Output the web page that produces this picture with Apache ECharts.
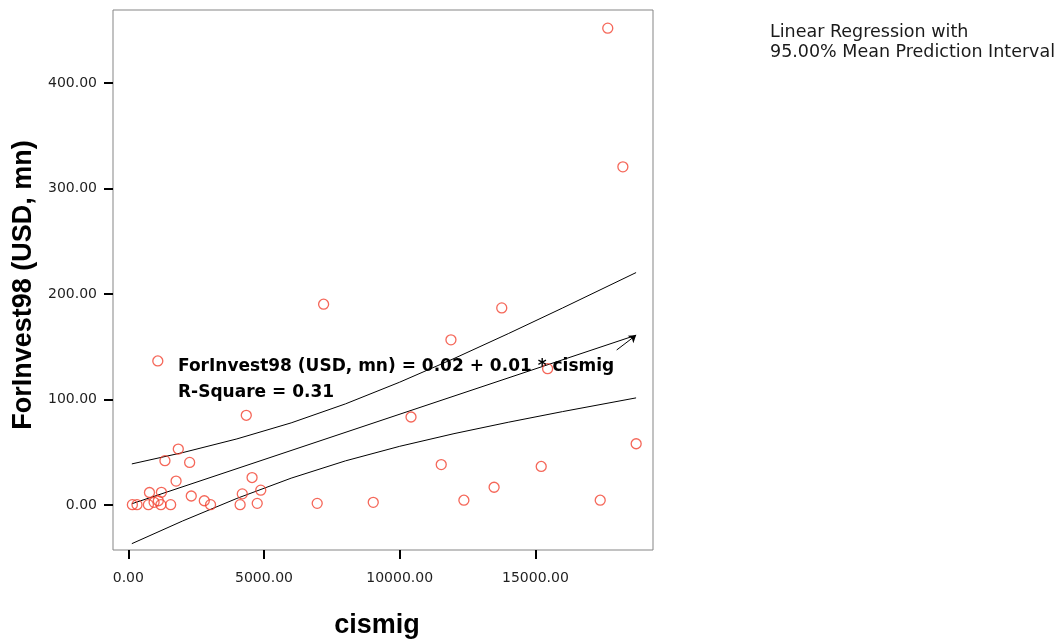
<!DOCTYPE html>
<html>
<head>
<meta charset="utf-8">
<title>ForInvest98 vs cismig</title>
<script src="https://cdn.jsdelivr.net/npm/echarts@6/dist/echarts.min.js"></script>
<style>
  html, body { margin: 0; padding: 0; background: #ffffff; }
  #chart { width: 1063px; height: 639px; }
</style>
</head>
<body>
<div id="chart"></div>
<script>
// Observations: cismig (x) and ForInvest98 in USD mn (y)
const cismig = [17666, 18223, 7196, 13760, 11888, 1087, 15450, 4347, 10417, 1842,
                1350, 2260, 11530, 15214, 18713, 1760, 4560, 13478, 780, 1220,
                2320, 4200, 4880, 2800, 3030, 4120, 4750, 6960, 9025, 12365,
                17388, 1560, 1200, 150, 320, 740, 950, 1105];
const forInvest98 = [452, 320.5, 190.3, 186.8, 156.5, 136.5, 129.2, 85, 83.4, 53,
                     42, 40.3, 38.3, 36.5, 58, 22.6, 26, 16.8, 11.8, 12,
                     8.5, 10.5, 14, 4, 0.3, 0.3, 1.5, 1.5, 2.5, 4.5,
                     4.5, 0.3, 0.3, 0.3, 0.3, 0.3, 2.5, 4];

// Fitted line coefficients
const intercept = 0.02;
const slope = 0.0086;
const rSquare = 0.31;
const fitRange = [130, 18710];

// 95% mean prediction interval bounds
const bandX = [130, 2000, 4000, 6000, 8000, 10000, 12000, 14000, 16000, 18710];
const bandUpper = [38.9, 49.6, 62.6, 77.8, 95.8, 116.4, 138.8, 162.4, 186.7, 220.3];
const bandLower = [-36.7, -15.2, 6.2, 25.4, 41.8, 55.6, 67.6, 78.4, 88.5, 101.5];

// Axis ticks
const xTicks = [0, 5000, 10000, 15000];
const yTicks = [0, 100, 200, 300, 400];

const points = cismig.map((x, i) => [x, forInvest98[i]]);
const fitLine = fitRange.map(x => [x, intercept + slope * x]);
const upperLine = bandX.map((x, i) => [x, bandUpper[i]]);
const lowerLine = bandX.map((x, i) => [x, bandLower[i]]);
const arrowEnd = fitLine[fitLine.length - 1];

const tickFont = { fontFamily: 'DejaVu Sans', fontSize: 14, color: '#1f1f1f' };
const nameFont = { fontFamily: 'Liberation Sans', fontSize: 27, fontWeight: 'bold', color: '#000' };
const eqFont = { fontFamily: 'DejaVu Sans', fontSize: 17, fontWeight: 'bold', fill: '#000' };
const noteFont = { fontFamily: 'DejaVu Sans', fontSize: 17.5, fill: '#1a1a1a' };

const chart = echarts.init(document.getElementById('chart'), null, { renderer: 'canvas' });

chart.setOption({
  animation: false,
  backgroundColor: '#ffffff',
  grid: {
    left: 113, right: 410, top: 10, bottom: 89,
    containLabel: false,
    outerBoundsMode: 'none',
    show: true, borderColor: '#858585', borderWidth: 1, backgroundColor: 'transparent'
  },
  xAxis: {
    type: 'value',
    min: -564, max: 19333,
    name: 'cismig',
    nameLocation: 'middle',
    nameGap: 62,
    nameTextStyle: Object.assign({ padding: [0, 12, 0, 0] }, nameFont),
    axisLine: { show: false, onZero: false },
    splitLine: { show: false },
    axisTick: { show: true, inside: false, length: 9, lineStyle: { color: '#000', width: 2 }, customValues: xTicks },
    axisLabel: Object.assign({ margin: 21, customValues: xTicks, formatter: v => v.toFixed(2) }, tickFont)
  },
  yAxis: {
    type: 'value',
    min: -42.7, max: 469.2,
    name: 'ForInvest98 (USD, mn)',
    nameLocation: 'middle',
    nameGap: 71,
    nameTextStyle: Object.assign({ padding: [0, 10, 0, 0] }, nameFont),
    axisLine: { show: false, onZero: false },
    splitLine: { show: false },
    axisTick: { show: true, inside: false, length: 9, lineStyle: { color: '#000', width: 2 }, customValues: yTicks },
    axisLabel: Object.assign({ margin: 16, customValues: yTicks, formatter: v => v.toFixed(2) }, tickFont)
  },
  series: [
    {
      name: 'upper',
      type: 'line',
      data: upperLine,
      smooth: false,
      showSymbol: false,
      lineStyle: { color: '#000', width: 1 },
      z: 2
    },
    {
      name: 'lower',
      type: 'line',
      data: lowerLine,
      smooth: false,
      showSymbol: false,
      lineStyle: { color: '#000', width: 1 },
      z: 2
    },
    {
      name: 'fit',
      type: 'line',
      data: fitLine,
      showSymbol: false,
      lineStyle: { color: '#000', width: 1 },
      z: 2,
      markLine: {
        silent: true,
        symbol: ['none', 'arrow'],
        symbolSize: 7,
        label: { show: false },
        lineStyle: { color: '#000', width: 1, type: 'solid' },
        data: [[{ coord: [17995, 146.9] }, { coord: arrowEnd }]]
      }
    },
    {
      name: 'ForInvest98',
      type: 'scatter',
      data: points,
      symbol: 'circle',
      symbolSize: 10,
      itemStyle: { color: 'transparent', borderColor: '#f2412f', borderWidth: 1.3 },
      z: 3
    }
  ],
  graphic: [
    {
      type: 'text', left: 178, top: 358, z: 10,
      style: Object.assign({
        text: 'ForInvest98 (USD, mn) = ' + intercept.toFixed(2) + ' + ' + slope.toFixed(2) + ' * cismig'
      }, eqFont)
    },
    {
      type: 'text', left: 178, top: 384, z: 10,
      style: Object.assign({ text: 'R-Square = ' + rSquare.toFixed(2) }, eqFont)
    },
    {
      type: 'text', left: 770, top: 23, z: 10,
      style: Object.assign({ text: 'Linear Regression with' }, noteFont)
    },
    {
      type: 'text', left: 770, top: 43, z: 10,
      style: Object.assign({ text: '95.00% Mean Prediction Interval' }, noteFont)
    }
  ]
});
</script>
</body>
</html>
